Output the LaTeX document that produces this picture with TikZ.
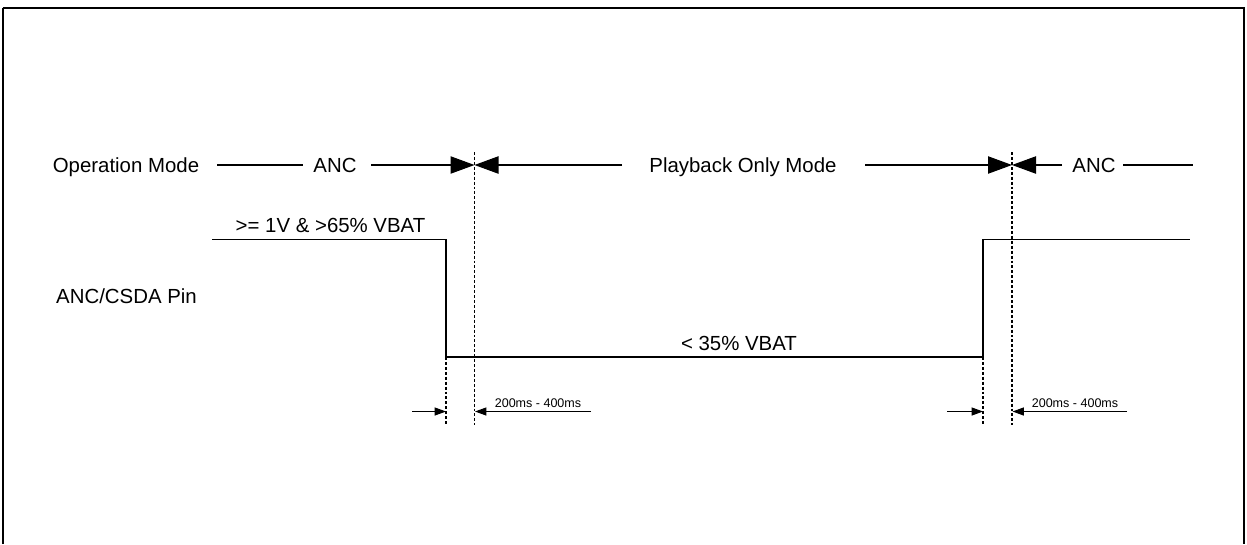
\documentclass[tikz,border=0pt]{standalone}
\usepackage{fontspec}
\setmainfont{Liberation Sans}
\usetikzlibrary{arrows.meta}
\begin{document}
\begin{tikzpicture}[x=0.75pt,y=-0.75pt,
  wire/.style={line width=0.8pt},
  guide/.style={line width=0.8pt,dash pattern=on 2.2pt off 1.5pt},
  bigtip/.style={wire,-{Triangle[length=18pt,width=13pt]}},
  smalltip/.style={wire,-{Triangle[length=8.5pt,width=6pt]}},
  lbl/.style={inner sep=0pt,anchor=base,font=\fontsize{15.3}{18}\selectfont},
  small/.style={inner sep=0pt,anchor=base,font=\fontsize{9.4}{11}\selectfont}]
\useasboundingbox (0,0) rectangle (1247,544);
% frame
\draw[line width=1.1pt] (3,544) -- (3,8);
\draw[line width=1.1pt] (1244,8) -- (1244,544);
\draw[line width=2pt] (2.5,8) -- (1244.5,8);

% labels
\node[lbl] (opmode) at (126,172) {Operation Mode};
\node[lbl] (anc1) at (335,172) {ANC};
\node[lbl] (pbm) at (743,172) {Playback Only Mode};
\node[lbl] (anc2) at (1094,172) {ANC};
\node[lbl] (hi) at (330.5,232) {>= 1V \& >65\% VBAT};
\node[lbl] (pin) at (126.5,303) {ANC/CSDA Pin};
\node[lbl] (lo) at (739,350) {< 35\% VBAT};
\node[small] (t1) at (538,407) {200ms - 400ms};
\node[small] (t2) at (1075,407) {200ms - 400ms};

% mode boundaries
\coordinate (b1) at (474.5,165);
\coordinate (b2) at (1012,165);
\coordinate (b1top) at (474.5,152);
\coordinate (b1bot) at (474.5,425);
\coordinate (b2top) at (1012,152);
\coordinate (b2bot) at (1012,425);

% top row lines
\coordinate (r1a) at (217,165);
\coordinate (r1b) at (303,165);
\coordinate (r1c) at (371,165);
\coordinate (r1d) at (622,165);
\coordinate (r1e) at (865,165);
\coordinate (r1f) at (1062,165);
\coordinate (r1g) at (1123,165);
\coordinate (r1h) at (1193,165);
\draw[wire] (r1a) -- (r1b);
\draw[bigtip] (r1c) -- (b1);
\draw[bigtip] (r1d) -- (b1);
\draw[bigtip] (r1e) -- (b2);
\draw[bigtip] (r1f) -- (b2);
\draw[wire] (r1g) -- (r1h);

% waveform
\coordinate (w0) at (212,239.5);
\coordinate (e1t) at (446,239.5);
\coordinate (e1b) at (446,357);
\coordinate (e2b) at (983,357);
\coordinate (e2t) at (983,239.5);
\coordinate (w5) at (1190,239.5);
\draw[wire] (w0) -- (e1t) -- (e1b) -- (e2b) -- (e2t) -- (w5);

% guides
\draw[guide] (b1top) -- (b1bot);
\draw[guide] (b2top) -- (b2bot);
\coordinate (e1g) at (446,425);
\coordinate (e2g) at (983,425);
\draw[guide] (e1b) -- (e1g);
\draw[guide] (e2b) -- (e2g);

% timing arrows
\coordinate (s1a) at (412,411.5);
\coordinate (s1b) at (446,411.5);
\coordinate (s1c) at (591,411.5);
\coordinate (s1d) at (475,411.5);
\coordinate (s2a) at (947,411.5);
\coordinate (s2b) at (983,411.5);
\coordinate (s2c) at (1127,411.5);
\coordinate (s2d) at (1012.5,411.5);
\draw[smalltip] (s1a) -- (s1b);
\draw[smalltip] (s1c) -- (s1d);
\draw[smalltip] (s2a) -- (s2b);
\draw[smalltip] (s2c) -- (s2d);
\end{tikzpicture}
\end{document}
